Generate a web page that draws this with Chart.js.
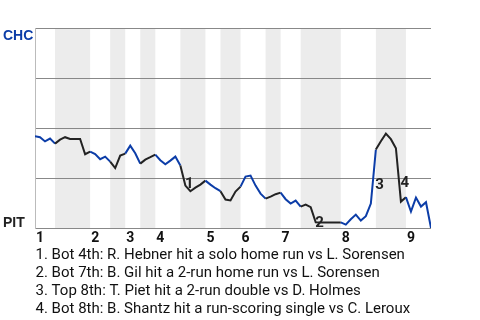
<!DOCTYPE html>
<html>
<head>
<meta charset="utf-8">
<script src="https://cdn.jsdelivr.net/npm/chart.js@4.4.0/dist/chart.umd.min.js"></script>
<style>
  html, body { margin: 0; padding: 0; background: #fff; }
</style>
</head>
<body>
<canvas id="wp" width="480" height="320"></canvas>
<script>
// CHC win probability (%) after each plate appearance
var winProb = [45.9, 45.4, 43.3, 44.7, 42.2, 44.2, 45.4, 44.5, 44.5, 44.5,
               36.9, 38.2, 37.0, 34.4, 35.7, 33.2, 30.0, 36.2, 37.2, 41.2,
               37.4, 32.2, 34.2, 35.4, 36.7, 33.9, 31.9, 33.7, 35.7, 31.2,
               21.2, 18.4, 20.2, 21.7, 23.7, 21.7, 19.9, 18.4, 14.2, 13.8,
               18.2, 20.7, 25.7, 26.2, 21.2, 17.2, 14.7, 15.7, 16.9, 17.7,
               14.4, 12.2, 13.7, 10.7, 11.7, 10.4, 2.9, 2.8, 2.8, 2.8,
               2.8, 2.8, 1.7, 4.4, 6.7, 3.7, 5.9, 12.2, 39.2, 43.4,
               47.2, 44.4, 39.9, 13.2, 15.4, 8.2, 15.2, 10.7, 12.9, 0];
// index where each half inning begins (top 1, bot 1, top 2, ...)
var halfStarts = [0, 4, 11, 15, 18, 21, 24, 29, 34, 37, 41, 46, 49, 53, 61, 68, 74];
var lastPlay = winProb.length - 1;
var innings = ['1', '2', '3', '4', '5', '6', '7', '8', '9'];
var teamTop = 'CHC';
var teamBottom = 'PIT';
var events = [30, 56, 68, 73];
var eventMarks = ['1', '2', '3', '4'];
var eventNotes = [
    '1. Bot 4th: R. Hebner hit a solo home run vs L. Sorensen',
    '2. Bot 7th: B. Gil hit a 2-run home run vs L. Sorensen',
    '3. Top 8th: T. Piet hit a 2-run double vs D. Holmes',
    '4. Bot 8th: B. Shantz hit a run-scoring single vs C. Leroux'
];

var blue = '#0c3da8';
var black = '#222222';
var font = 'Roboto, "Liberation Sans", sans-serif';

function isTopHalf(j) {
    for (var h = 0; h < halfStarts.length; h++) {
        var next = h + 1 < halfStarts.length ? halfStarts[h + 1] : lastPlay;
        if (j > halfStarts[h] && j <= next) { return h % 2 === 0; }
    }
    return true;
}

var gameDecor = {
    id: 'gameDecor',
    beforeDraw: function (chart) {
        var ctx = chart.ctx, a = chart.chartArea, xs = chart.scales.x;
        ctx.save();
        ctx.fillStyle = '#ececec';
        for (var h = 1; h < halfStarts.length; h += 2) {
            var x0 = xs.getPixelForValue(halfStarts[h]);
            var x1 = xs.getPixelForValue(h + 1 < halfStarts.length ? halfStarts[h + 1] : lastPlay);
            ctx.fillRect(x0, a.top, x1 - x0, a.bottom - a.top);
        }
        ctx.restore();
    },
    afterDraw: function (chart) {
        var ctx = chart.ctx, a = chart.chartArea, xs = chart.scales.x, ys = chart.scales.y;
        ctx.save();
        ctx.textAlign = 'left';
        ctx.textBaseline = 'alphabetic';

        // team names
        ctx.font = 'bold 14px "Liberation Sans", Arial, sans-serif';
        ctx.fillStyle = blue;
        ctx.fillText(teamTop, 3, a.top + 12);
        ctx.fillStyle = black;
        ctx.fillText(teamBottom, 3, a.bottom - 1);

        // inning numbers
        ctx.font = 'bold 14px ' + font;
        ctx.fillStyle = '#111';
        for (var i = 0; i < innings.length; i++) {
            ctx.fillText(innings[i], xs.getPixelForValue(halfStarts[i * 2]) + 1, a.bottom + 14);
        }

        // key play markers
        ctx.font = 'bold 15px ' + font;
        ctx.fillStyle = black;
        for (var k = 0; k < events.length; k++) {
            var e = events[k];
            var mid = (winProb[e - 1] + winProb[e]) / 2;
            ctx.fillText(eventMarks[k], xs.getPixelForValue(e) - 0.5, ys.getPixelForValue(mid) + 12.5);
        }

        // notes
        ctx.font = '15px ' + font;
        ctx.fillStyle = '#111';
        for (var n = 0; n < eventNotes.length; n++) {
            ctx.fillText(eventNotes[n], 35.5, a.bottom + 30.5 + n * 18.1);
        }
        ctx.restore();
    }
};

var points = winProb.map(function (v, i) { return { x: i, y: v }; });

var wpChart = new Chart(document.getElementById('wp'), {
    type: 'line',
    data: {
        datasets: [{
            data: points,
            borderWidth: 2,
            borderColor: blue,
            pointRadius: 0,
            tension: 0,
            segment: {
                borderColor: function (c) { return isTopHalf(c.p1DataIndex) ? blue : black; }
            }
        }]
    },
    options: {
        responsive: false,
        animation: false,
        devicePixelRatio: 1,
        layout: { padding: { left: 35, right: 49, top: 28, bottom: 92 } },
        plugins: { legend: { display: false }, tooltip: { enabled: false } },
        scales: {
            x: { type: 'linear', display: false, min: 0, max: lastPlay },
            y: {
                min: 0, max: 100,
                ticks: { display: false, stepSize: 25 },
                grid: { color: '#888', drawTicks: false },
                border: { color: '#bbb' }
            }
        }
    },
    plugins: [gameDecor]
});
</script>
</body>
</html>
